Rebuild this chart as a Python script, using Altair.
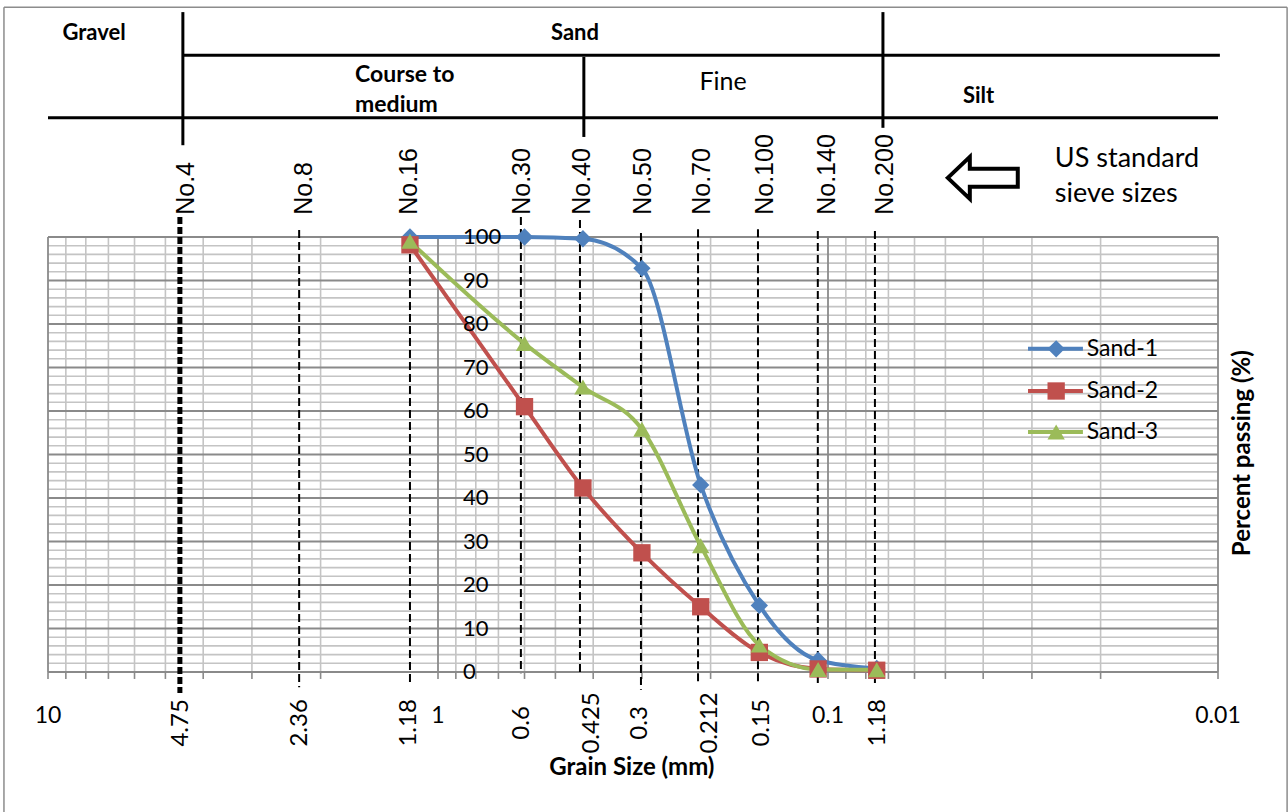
import altair as alt
import pandas as pd

# ---------------- data ----------------
series_names = ["Sand-1", "Sand-2", "Sand-3"]
series_colors = ["#4F81BD", "#C0504D", "#9BBB59"]
series_shapes = ["diamond", "square", "triangle-up"]

grain_sizes = [1.18, 0.6, 0.425, 0.3, 0.212, 0.15, 0.106, 0.075]
sand1 = [100, 100, 99.6, 92.8, 43.0, 15.3, 2.7, 0.8]
sand2 = [98.2, 61.0, 42.3, 27.4, 15.0, 4.5, 0.7, 0.4]
sand3 = [99.0, 75.5, 65.5, 55.8, 29.0, 6.2, 0.6, 0.5]

# sieve guide lines (positions as drawn in the picture)
sieve_names = ["No.4", "No.8", "No.16", "No.30", "No.40", "No.50", "No.70", "No.100", "No.140", "No.200"]
sieve_name_pos = [4.43, 2.21, 1.19, 0.609, 0.428, 0.298, 0.2104, 0.145, 0.1007, 0.0714]
sieve_line_pos = [4.59, 2.27, 1.18, 0.613, 0.4325, 0.3017, 0.2154, 0.1512, 0.1062, 0.0758]
sieve_line_top = [104.6, 101.6, 101.6, 104.6, 103.9, 100.9, 101.8, 101.8, 101.4, 101.4]
sieve_line_bottom = [-4.8, -3.5, -3.0, -0.3, -0.3, -4.1, -3.0, -3.0, -3.0, -3.0]
sieve_mm_labels = ["4.75", "2.36", "1.18", "0.6", "0.425", "0.3", "0.212", "0.15", "1.18"]
sieve_mm_pos = [4.56, 2.26, 1.19, 0.609, 0.403, 0.303, 0.201, 0.1476, 0.0745]

decade_labels = ["10", "1", "0.1", "0.01"]
decade_values = [10, 1, 0.1, 0.01]
y_tick_values = [0, 10, 20, 30, 40, 50, 60, 70, 80, 90, 100]

minor_x = [9, 8, 7, 6, 5, 4, 3, 2, 0.9, 0.8, 0.7, 0.6, 0.5, 0.4, 0.3, 0.2,
           0.09, 0.08, 0.07, 0.06, 0.05, 0.04, 0.03, 0.02]
major_x = [10, 1, 0.1, 0.01]
minor_y = [v for v in range(0, 101, 2) if v % 10 != 0]
major_y = list(range(0, 101, 10))

# header (soil classes) lines: x, x2, y, y2 in chart units
header_x = [4.51, 10, 4.51, 0.4227, 0.0723]
header_x2 = [0.00989, 0.01, 4.51, 0.4227, 0.0723]
header_y = [141.8, 127.4, 151.7, 141.4, 151.7]
header_y2 = [141.8, 127.4, 121.1, 123.0, 125.1]

# outer frame
frame_x = [12.97, 12.97, 0.00665]
frame_x2 = [12.97, 0.00665, 0.00665]
frame_y = [152.8, 152.8, 152.8]
frame_y2 = [-40, 152.8, -40]

# ---------------- scales ----------------
xs = alt.Scale(type="log", domain=[0.01, 10], reverse=True, nice=False)
ys = alt.Scale(domain=[0, 100], nice=False, zero=False)


def X(f="x"):
    return alt.X(f"{f}:Q", scale=xs, axis=None)


def Y(f="y"):
    return alt.Y(f"{f}:Q", scale=ys, axis=None)


# ---------------- grid ----------------
def vgrid(xvals, color, width):
    df = pd.DataFrame({"x": xvals, "y": [0] * len(xvals), "y2": [100] * len(xvals)})
    return alt.Chart(df).mark_rule(color=color, strokeWidth=width).encode(
        x=X(), y=Y(), y2="y2:Q")


def hgrid(yvals, color, width):
    df = pd.DataFrame({"y": yvals, "x": [10] * len(yvals), "x2": [0.01] * len(yvals)})
    return alt.Chart(df).mark_rule(color=color, strokeWidth=width).encode(
        x=X(), x2="x2:Q", y=Y())


grid_minor_v = vgrid(minor_x, "#c4c4c4", 1.6)
grid_minor_h = hgrid(minor_y, "#c4c4c4", 1.6)
grid_major_h = hgrid(major_y, "#8a8a8a", 1.8)
grid_major_v = vgrid(major_x, "#8a8a8a", 1.8)

all_x = minor_x + major_x
ticks_df = pd.DataFrame({"x": all_x, "y": [0] * len(all_x), "y2": [-1.6] * len(all_x)})
ticks = alt.Chart(ticks_df).mark_rule(color="#8a8a8a", strokeWidth=1.6).encode(
    x=X(), y=Y(), y2="y2:Q")

# ---------------- dashed sieve lines ----------------
dash_df = pd.DataFrame({"x": sieve_line_pos, "y": sieve_line_top, "y2": sieve_line_bottom,
                        "name": sieve_names})
dash_thin = alt.Chart(dash_df.iloc[1:]).mark_rule(
    color="black", strokeWidth=2, strokeDash=[8, 4]).encode(x=X(), y=Y(), y2="y2:Q")
dash_thick = alt.Chart(dash_df.iloc[:1]).mark_rule(
    color="black", strokeWidth=5, strokeDash=[7, 3]).encode(x=X(), y=Y(), y2="y2:Q")

# ---------------- header lines and frame ----------------
header_df = pd.DataFrame({"x": header_x, "x2": header_x2, "y": header_y, "y2": header_y2})
header_lines = alt.Chart(header_df).mark_rule(color="black", strokeWidth=3).encode(
    x=X(), x2="x2:Q", y=Y(), y2="y2:Q")

frame_df = pd.DataFrame({"x": frame_x, "x2": frame_x2, "y": frame_y, "y2": frame_y2})
frame = alt.Chart(frame_df).mark_rule(color="#8c8c8c", strokeWidth=1.5).encode(
    x=X(), x2="x2:Q", y=Y(), y2="y2:Q")

# ---------------- series ----------------
rows = []
for name, vals in zip(series_names, [sand1, sand2, sand3]):
    for g, v in zip(grain_sizes, vals):
        rows.append({"x": g, "y": v, "series": name})
data = pd.DataFrame(rows)

color_enc = alt.Color("series:N", scale=alt.Scale(domain=series_names, range=series_colors),
                      legend=None)
shape_enc = alt.Shape("series:N", scale=alt.Scale(domain=series_names, range=series_shapes),
                      legend=None)

lines = alt.Chart(data).mark_line(strokeWidth=4, interpolate="monotone").encode(
    x=X(), y=Y(), color=color_enc, order=alt.Order("x:Q", sort="descending"))
points = alt.Chart(data).mark_point(filled=True, size=300, opacity=1).encode(
    x=X(), y=Y(), color=color_enc, shape=shape_enc)

# ---------------- manual legend ----------------
legend_y = [74.3, 64.6, 55.2]
leg_df = pd.DataFrame({"series": series_names, "y": legend_y,
                       "x": [0.0307] * 3, "x2": [0.0222] * 3,
                       "xm": [0.026] * 3, "xt": [0.0217] * 3})
leg_lines = alt.Chart(leg_df).mark_rule(strokeWidth=4).encode(
    x=X(), x2="x2:Q", y=Y(), color=color_enc)
leg_points = alt.Chart(leg_df).mark_point(filled=True, size=300, opacity=1).encode(
    x=X("xm"), y=Y(), color=color_enc, shape=shape_enc)
leg_text = alt.Chart(leg_df).mark_text(
    align="left", baseline="middle", font="Lato", fontSize=23, color="black").encode(
    x=X("xt"), y=Y(), text="series:N")


# ---------------- texts ----------------
def text_layer(xv, yv, labels, **kw):
    df = pd.DataFrame({"x": xv, "y": yv, "label": labels})
    return alt.Chart(df).mark_text(color="black", **kw).encode(x=X(), y=Y(), text="label:N")


sieve_name_text = text_layer(sieve_name_pos, [105.1] * len(sieve_names), sieve_names,
                             angle=270, align="left", baseline="middle",
                             font="Liberation Sans", fontSize=25)
sieve_mm_text = text_layer(sieve_mm_pos, [-11.7] * len(sieve_mm_labels), sieve_mm_labels,
                           angle=270, align="center", baseline="middle",
                           font="Lato", fontSize=24)
decade_text = text_layer(decade_values, [-10.1] * 4, decade_labels,
                         align="center", baseline="middle", font="Lato", fontSize=23)
ytick_text = text_layer([0.863] * len(y_tick_values), y_tick_values,
                        [str(v) for v in y_tick_values],
                        align="left", baseline="middle", font="Lato", fontSize=22)

class_bold_center = text_layer([7.62, 0.4454, 0.0411], [145.3, 145.3, 130.8],
                               ["Gravel", "Sand", "Silt"],
                               align="center", baseline="alphabetic", font="Lato",
                               fontSize=22, fontWeight="bold")
class_bold_left = text_layer([1.632, 1.632], [135.6, 128.7], ["Course to", "medium"],
                             align="left", baseline="alphabetic", font="Lato",
                             fontSize=23, fontWeight="bold")
fine_text = text_layer([0.1858], [133.8], ["Fine"], align="center", baseline="alphabetic",
                       font="Lato", fontSize=25)
us_text = text_layer([0.0262, 0.0262], [116.1, 108.0], ["US standard", "sieve sizes"],
                     align="left", baseline="alphabetic", font="Lato", fontSize=27)

x_title = text_layer([0.3184], [-22.1], ["Grain Size (mm)"], align="center",
                     baseline="middle", font="Lato", fontSize=24, fontWeight="bold")
y_title = text_layer([0.00863], [50.3], ["Percent passing (%)"], angle=270, align="center",
                     baseline="middle", font="Lato", fontSize=24, fontWeight="bold")

arrow_path = "M -1 0 L -0.37 -0.6 L -0.37 -0.257 L 1 -0.257 L 1 0.257 L -0.37 0.257 L -0.37 0.6 Z"
arrow_df = pd.DataFrame({"x": [0.0401], "y": [113.6]})
arrow = alt.Chart(arrow_df).mark_point(
    shape=arrow_path, size=4900, filled=True, fill="white", stroke="black",
    strokeWidth=4, opacity=1, fillOpacity=1, strokeOpacity=1).encode(x=X(), y=Y())

chart = alt.layer(
    frame,
    grid_minor_v, grid_minor_h, grid_major_h, grid_major_v, ticks,
    dash_thin, dash_thick,
    header_lines,
    lines, points,
    leg_lines, leg_points, leg_text,
    sieve_name_text, sieve_mm_text, decade_text, ytick_text,
    class_bold_center, class_bold_left, fine_text, us_text,
    x_title, y_title, arrow,
).properties(
    width=1170, height=435,
    autosize=alt.AutoSizeParams(type="none"),
    padding={"left": 48, "top": 237, "right": 70, "bottom": 140},
    background="white",
).configure_view(stroke=None)

chart.save("out.html", embed_options={"renderer": "svg", "actions": False})
